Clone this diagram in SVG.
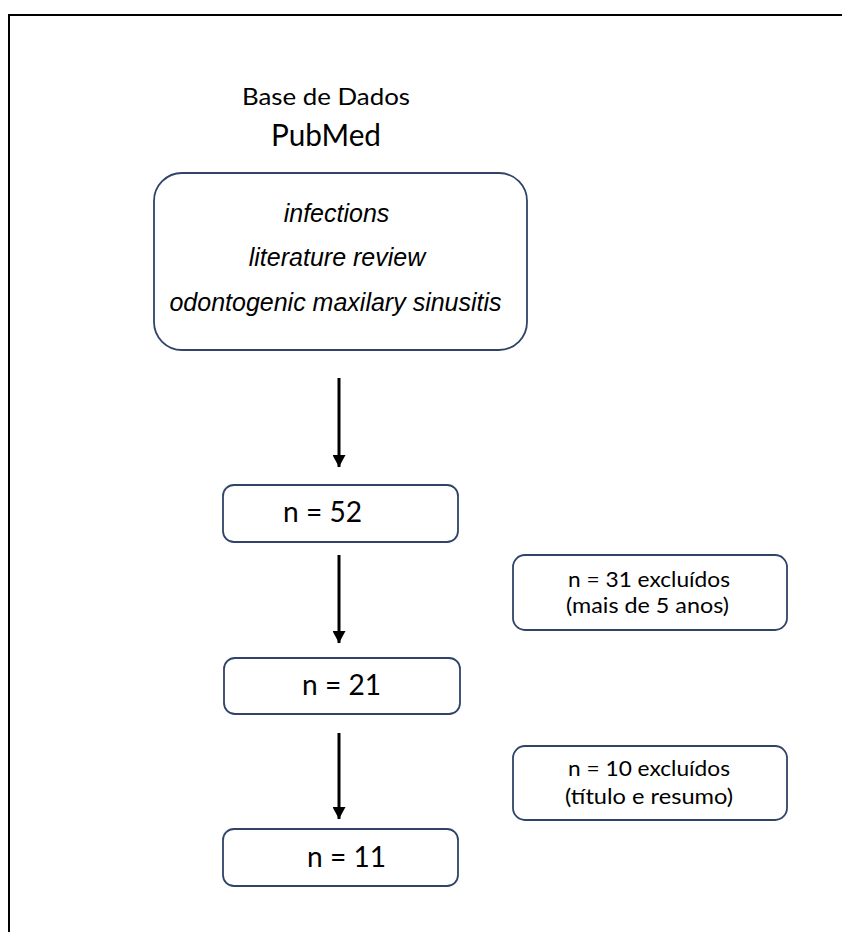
<svg xmlns="http://www.w3.org/2000/svg" width="842" height="932" viewBox="0 0 842 932">
<style>
.frame{fill:none;stroke:#000;stroke-width:2}
.box{fill:#fff;stroke:#2f4468;stroke-width:1.8}
.cal{font-family:Lato,"Open Sans",sans-serif;fill:#000}
.it{font-family:"Liberation Sans",Arial,sans-serif;font-style:italic;font-size:25px;fill:#000;text-anchor:middle}
.arr{stroke:#000;stroke-width:3;fill:none}
</style>
<defs>
<marker id="ah" markerWidth="12" markerHeight="13" refX="12" refY="6.5" orient="auto" markerUnits="userSpaceOnUse" viewBox="0 0 12 13">
<path d="M0,0 L12,6.5 L0,13 z" fill="#000"/>
</marker>
</defs>
<rect width="842" height="932" fill="#fff"/>
<path class="frame" d="M9,940 L9,15 L850,15"/>
<g id="title">
<text class="cal" x="242" y="105" font-size="24" textLength="168" lengthAdjust="spacingAndGlyphs">Base de Dados</text>
<text class="cal" x="271" y="146" font-size="30" textLength="110" lengthAdjust="spacingAndGlyphs">PubMed</text>
</g>
<g id="keywords">
<rect class="box" x="154" y="173" width="373" height="177" rx="28"/>
<text class="it" x="336.5" y="222">infections</text>
<text class="it" x="337" y="266">literature review</text>
<text class="it" x="335.5" y="311">odontogenic maxilary sinusitis</text>
</g>
<g id="n52">
<rect class="box" x="223" y="485" width="235" height="57" rx="11"/>
<text class="cal" x="283" y="522" font-size="28" textLength="79" lengthAdjust="spacingAndGlyphs">n = 52</text>
</g>
<g id="ex31">
<rect class="box" x="513" y="555" width="274" height="75" rx="12"/>
<text class="cal" x="568" y="587" font-size="21" textLength="162" lengthAdjust="spacingAndGlyphs">n = 31 excluídos</text>
<text class="cal" x="566" y="613" font-size="21" textLength="163" lengthAdjust="spacingAndGlyphs">(mais de 5 anos)</text>
</g>
<g id="n21">
<rect class="box" x="224" y="658" width="236" height="56" rx="11"/>
<text class="cal" x="302" y="695" font-size="28" textLength="79" lengthAdjust="spacingAndGlyphs">n = 21</text>
</g>
<g id="ex10">
<rect class="box" x="513" y="746" width="274" height="74" rx="12"/>
<text class="cal" x="568" y="776" font-size="21" textLength="162" lengthAdjust="spacingAndGlyphs">n = 10 excluídos</text>
<text class="cal" x="565" y="804" font-size="21" textLength="168" lengthAdjust="spacingAndGlyphs">(título e resumo)</text>
</g>
<g id="n11">
<rect class="box" x="223" y="829" width="235" height="57" rx="11"/>
<text class="cal" x="307" y="867" font-size="28" textLength="79" lengthAdjust="spacingAndGlyphs">n = 11</text>
</g>
<g id="connectors">
<line class="arr" x1="339" y1="378" x2="339" y2="467" marker-end="url(#ah)"/>
<line class="arr" x1="339" y1="555" x2="339" y2="643" marker-end="url(#ah)"/>
<line class="arr" x1="339" y1="733" x2="339" y2="819" marker-end="url(#ah)"/>
</g>
</svg>
